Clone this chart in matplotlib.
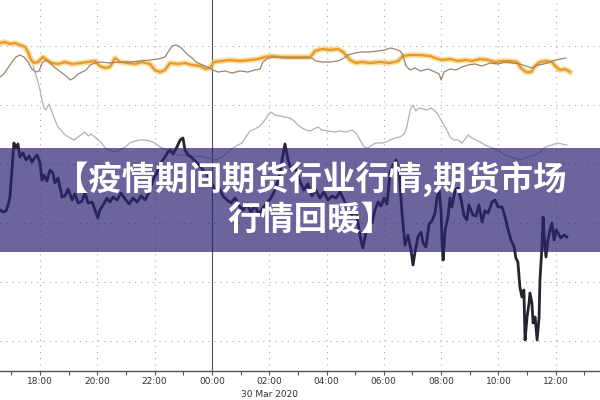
import matplotlib
matplotlib.use("Agg")
import matplotlib.pyplot as plt
from matplotlib.patches import Rectangle

# ---- data (time in hours since 29 Mar 00:00, values in index units) ----
orange_t = [16.60, 16.78, 16.95, 17.13, 17.30, 17.48, 17.58, 17.69, 17.79, 17.93, 18.11, 18.24, 18.42, 18.63,
            18.87, 19.12, 19.40, 19.68, 19.92, 20.09, 20.27, 20.44, 20.62, 20.79, 21.07, 21.32, 21.56, 21.84,
            22.01, 22.19, 22.36, 22.54, 22.82, 23.06, 23.31, 23.59, 23.79, 23.93, 24.07, 24.35, 24.63, 24.98,
            25.33, 25.61, 25.85, 26.10, 26.38, 26.73, 27.08, 27.43, 27.60, 27.84, 28.12, 28.40, 28.58, 28.82,
            29.03, 29.24, 29.52, 29.87, 30.22, 30.50, 30.67, 30.92, 31.27, 31.61, 31.79, 32.03, 32.31, 32.59,
            32.84, 33.08, 33.36, 33.64, 33.88, 34.13, 34.41, 34.65, 34.79, 34.96, 35.14, 35.28, 35.45, 35.66,
            35.87, 36.01, 36.15, 36.32, 36.50]
orange_v = [328, 329, 327, 328, 326, 324, 319, 311, 308, 309, 314, 311, 308, 307,
            309, 307, 308, 309, 310, 305, 303, 304, 313, 309, 308, 307, 309, 307,
            301, 299, 301, 308, 307, 308, 306, 305, 302, 303, 309, 310, 311, 310,
            311, 312, 314, 315, 314, 314, 314, 314, 320, 322, 321, 322, 319, 311,
            308, 309, 308, 309, 308, 310, 315, 316, 316, 315, 313, 311, 312, 310,
            311, 310, 312, 311, 309, 310, 310, 309, 303, 299, 299, 305, 309, 310,
            309, 304, 301, 302, 299]

brown_t = [16.60, 16.74, 16.88, 17.02, 17.16, 17.30, 17.44, 17.58, 17.72, 17.86, 17.97, 18.07, 18.21, 18.35,
           18.49, 18.63, 18.77, 18.91, 19.05, 19.19, 19.33, 19.47, 19.61, 19.75, 19.92, 20.09, 20.44, 20.79,
           21.14, 21.49, 21.84, 22.12, 22.36, 22.47, 22.61, 22.75, 22.89, 23.03, 23.17, 23.31, 23.45, 23.59,
           23.76, 23.93, 24.04, 24.21, 24.46, 24.70, 24.98, 25.26, 25.50, 25.68, 25.78, 25.96, 26.20, 26.55,
           26.90, 27.25, 27.49, 27.63, 27.84, 28.12, 28.40, 28.61, 28.75, 28.99, 29.24, 29.52, 29.80, 30.04,
           30.22, 30.39, 30.57, 30.67, 30.77, 30.92, 31.09, 31.27, 31.54, 31.79, 31.93, 32.00, 32.10, 32.31,
           32.52, 32.73, 32.94, 33.18, 33.43, 33.71, 33.99, 34.23, 34.48, 34.75, 34.96, 35.17, 35.38, 35.59,
           35.80, 36.01, 36.18, 36.36]
brown_v = [294, 297, 303, 309, 314, 316, 314, 309, 302, 299, 300, 308, 311, 308,
           304, 301, 298, 295, 291, 293, 297, 299, 301, 306, 308, 309, 308, 309,
           309, 310, 311, 312, 314, 319, 325, 326, 324, 320, 316, 313, 309, 307,
           305, 303, 301, 299, 300, 298, 300, 299, 301, 302, 309, 313, 314, 313,
           313, 313, 313, 310, 309, 309, 310, 313, 316, 318, 319, 319, 320, 321,
           323, 322, 320, 316, 305, 301, 303, 300, 302, 299, 297, 291, 299, 302,
           301, 304, 306, 307, 305, 308, 307, 309, 308, 307, 305, 303, 306, 307,
           309, 311, 312, 313]

gray_t = [17.76, 17.86, 17.93, 18.00, 18.07, 18.14, 18.21, 18.31, 18.42, 18.52, 18.63, 18.73, 18.84, 18.94,
          19.05, 19.19, 19.33, 19.47, 19.57, 19.68, 19.78, 19.92, 20.02, 20.13, 20.27, 20.44, 20.62, 20.79,
          20.97, 21.14, 21.32, 21.49, 21.67, 21.84, 22.01, 22.19, 22.36, 22.54, 22.82, 23.06, 23.31, 23.59,
          23.86, 24.11, 24.35, 24.56, 24.74, 24.91, 25.05, 25.19, 25.33, 25.50, 25.68, 25.85, 25.96, 26.06,
          26.20, 26.38, 26.55, 26.73, 26.87, 27.00, 27.15, 27.28, 27.43, 27.56, 27.70, 27.84, 28.05, 28.26,
          28.47, 28.68, 28.89, 29.03, 29.17, 29.31, 29.45, 29.59, 29.73, 29.94, 30.08, 30.22, 30.39, 30.57,
          30.71, 30.81, 30.92, 31.02, 31.12, 31.23, 31.37, 31.51, 31.65, 31.75, 31.86, 31.96, 32.07, 32.17,
          32.31, 32.45, 32.59, 32.73, 32.84, 32.94, 33.08, 33.22, 33.36, 33.53, 33.71, 33.88, 34.06, 34.23,
          34.41, 34.58, 34.75, 34.93, 35.10, 35.28, 35.45, 35.59, 35.73, 35.87, 36.04, 36.22, 36.39]
gray_v = [305, 296, 289, 281, 271, 263, 261, 267, 259, 251, 244, 241, 237, 235,
          233, 231, 234, 237, 239, 235, 237, 234, 231, 229, 223, 221, 219, 221,
          224, 228, 230, 231, 231, 230, 228, 224, 222, 219, 216, 216, 214, 215,
          213, 211, 214, 219, 223, 226, 228, 234, 240, 242, 245, 251, 256, 259,
          256, 255, 254, 253, 250, 246, 243, 241, 240, 242, 244, 241, 240, 239,
          240, 239, 241, 238, 231, 224, 223, 226, 228, 228, 229, 231, 233, 234,
          237, 245, 261, 266, 260, 263, 262, 261, 263, 261, 258, 253, 247, 243,
          234, 231, 231, 228, 232, 236, 233, 231, 229, 226, 224, 222, 219, 216,
          214, 213, 211, 213, 215, 216, 219, 223, 225, 226, 228, 227, 226]

dark_t = [16.60, 16.71, 16.81, 16.88, 16.95, 17.02, 17.09, 17.16, 17.23, 17.30, 17.41, 17.51, 17.62, 17.72,
          17.83, 17.90, 18.00, 18.07, 18.14, 18.24, 18.35, 18.45, 18.52, 18.63, 18.77, 18.87, 18.98, 19.12,
          19.22, 19.33, 19.47, 19.57, 19.68, 19.82, 19.92, 20.02, 20.09, 20.20, 20.34, 20.44, 20.55, 20.69,
          20.83, 20.97, 21.11, 21.25, 21.39, 21.53, 21.67, 21.77, 21.84, 21.94, 22.08, 22.19, 22.29, 22.36,
          22.47, 22.54, 22.64, 22.78, 22.89, 22.99, 23.06, 23.17, 23.27, 23.41, 23.55, 23.69, 23.83, 23.97,
          24.11, 24.25, 24.39, 24.53, 24.67, 24.81, 24.95, 25.09, 25.23, 25.36, 25.50, 25.64, 25.78, 25.92,
          26.06, 26.20, 26.34, 26.45, 26.55, 26.66, 26.76, 26.87, 26.97, 27.08, 27.21, 27.35, 27.49, 27.63,
          27.77, 27.91, 28.05, 28.19, 28.33, 28.47, 28.61, 28.75, 28.89, 29.03, 29.13, 29.20, 29.27, 29.38,
          29.48, 29.59, 29.69, 29.80, 29.90, 30.01, 30.11, 30.22, 30.32, 30.43, 30.53, 30.64, 30.74, 30.84,
          30.95, 31.02, 31.09, 31.19, 31.30, 31.37, 31.47, 31.58, 31.68, 31.79, 31.86, 31.93, 32.00, 32.03,
          32.07, 32.14, 32.24, 32.31, 32.38, 32.49, 32.59, 32.70, 32.80, 32.90, 32.97, 33.11, 33.22, 33.32,
          33.43, 33.53, 33.64, 33.78, 33.88, 33.99, 34.13, 34.23, 34.34, 34.44, 34.55, 34.61, 34.68, 34.75,
          34.82, 34.89, 34.93, 35.00, 35.07, 35.10, 35.17, 35.21, 35.28, 35.35, 35.42, 35.45, 35.52, 35.56,
          35.59, 35.66, 35.73, 35.80, 35.87, 35.94, 36.01, 36.08, 36.18, 36.29, 36.39]
dark_v = [161, 159, 160, 165, 174, 201, 228, 223, 227, 214, 218, 211, 215, 209,
          214, 216, 208, 191, 196, 190, 201, 198, 188, 193, 174, 175, 182, 171,
          177, 168, 170, 178, 168, 169, 161, 153, 161, 166, 173, 169, 174, 171,
          178, 172, 167, 173, 169, 175, 171, 177, 181, 191, 198, 207, 211, 214,
          219, 221, 217, 224, 231, 233, 221, 216, 214, 210, 206, 201, 196, 189,
          181, 183, 175, 171, 168, 173, 165, 161, 167, 159, 165, 157, 163, 168,
          173, 181, 193, 211, 227, 211, 201, 206, 199, 189, 181, 187, 175, 181,
          173, 179, 171, 175, 173, 179, 171, 161, 156, 159, 143, 131, 123, 139,
          151, 148, 161, 169, 165, 173, 167, 199, 206, 211, 201, 156, 126, 136,
          121, 106, 119, 134, 139, 128, 124, 147, 150, 158, 174, 181, 159, 131,
          111, 141, 154, 173, 164, 181, 183, 171, 155, 151, 166, 156, 155, 166,
          149, 160, 158, 169, 171, 164, 164, 154, 141, 131, 124, 113, 109, 84,
          74, 81, 31, 54, 68, 78, 68, 48, 54, 31, 54, 91, 124, 154,
          138, 114, 131, 141, 148, 131, 141, 138, 133, 136, 134]

tick_hours = [18, 20, 22, 24, 26, 28, 30, 32, 34, 36]
tick_labels = ["18:00", "20:00", "22:00", "00:00", "02:00", "04:00", "06:00", "08:00", "10:00", "12:00"]
minor_hours = [17, 19, 21, 23, 25, 27, 29, 31, 33, 35, 37]
grid_levels = [30, 89, 148, 207, 266, 325]
date_label = "30 Mar 2020"
title_line1 = "【疫情期间期货行业行情,期货市场"
title_line2 = "行情回暖】"

# ---- figure ----
fig = plt.figure(figsize=(6, 4), dpi=100)
ax = fig.add_axes([0, 29 / 400, 1, 371 / 400])
ax.set_xlim(16.604, 37.546)
ax.set_ylim(0, 371)

dot = (0, (1, 4.5))
for g in grid_levels:
    ax.axhline(g, color="#a9a9a9", lw=0.8, ls=dot, zorder=1)
for h in tick_hours:
    if h == 24:
        ax.axvline(h, color="#505050", lw=0.8, zorder=1)
    else:
        ax.axvline(h, color="#a9a9a9", lw=0.8, ls=dot, zorder=1)

ax.plot(gray_t, gray_v, color="#b2b2b2", lw=0.9, zorder=2)
ax.plot(orange_t, orange_v, color="#f6cf70", lw=4.0, alpha=0.7, zorder=3, solid_joinstyle="round")
ax.plot(orange_t, orange_v, color="#e8992a", lw=1.6, zorder=4)
ax.plot(brown_t, brown_v, color="#9a8570", lw=0.9, zorder=5)
ax.plot(dark_t, dark_v, color="#24242e", lw=2.0, zorder=6)

for s in ["top", "left", "right"]:
    ax.spines[s].set_visible(False)
ax.spines["bottom"].set_color("#555555")
ax.spines["bottom"].set_linewidth(1.0)
ax.set_yticks([])
ax.set_xticks(tick_hours)
ax.set_xticklabels(tick_labels, fontsize=6.5, color="#333333", family="DejaVu Sans")
ax.set_xticks(minor_hours, minor=True)
ax.tick_params(axis="x", which="both", direction="out", length=3, width=0.8, color="#555555", pad=1.5)
ax.annotate(date_label, xy=(26, 0), xycoords=("data", "axes fraction"), xytext=(0, -14),
            textcoords="offset points", ha="center", va="top", fontsize=6.5, color="#333333")

# ---- banner ----
fig.patches.append(Rectangle((0, 0.37), 1, 0.26, transform=fig.transFigure,
                             facecolor="#2c2374", alpha=0.7, edgecolor="none", zorder=10))
fig.text(0.518, 0.55, title_line1, ha="center", va="center", fontsize=24, fontweight="bold",
         color="white", family=["Noto Sans CJK SC", "DejaVu Sans"], zorder=11)
fig.text(0.518, 0.4475, title_line2, ha="center", va="center", fontsize=24, fontweight="bold",
         color="white", family=["Noto Sans CJK SC", "DejaVu Sans"], zorder=11)

fig.savefig("out.png", dpi=100)
